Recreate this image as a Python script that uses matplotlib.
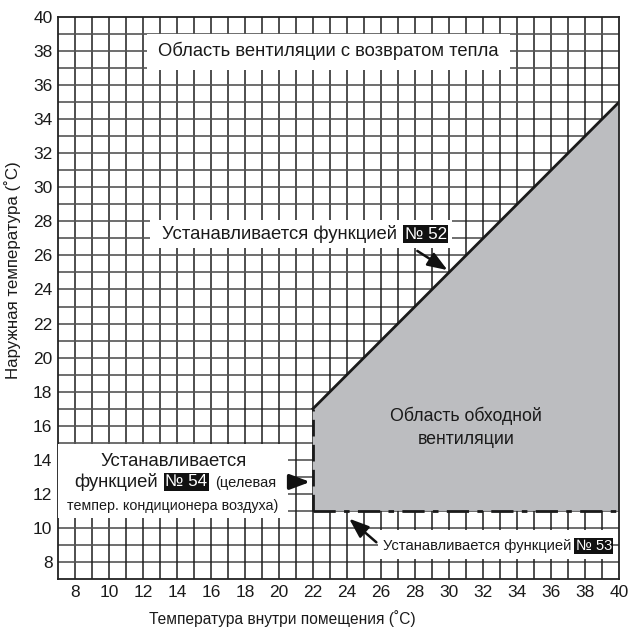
import matplotlib.pyplot as plt
from matplotlib.patches import Polygon, Rectangle

# границы области обходной вентиляции
bypass_x = [22, 22, 40, 40]
bypass_y = [11, 17, 35, 11]

x_ticks = list(range(8, 41, 2))
y_ticks = list(range(8, 41, 2))

label_top = 'Область вентиляции с возвратом тепла'
label_bypass = 'Область обходной\nвентиляции'
label_set = 'Устанавливается функцией'
label_54 = ['Устанавливается', 'функцией', '(целевая', 'темпер. кондиционера воздуха)']
num_52, num_53, num_54 = '№ 52', '№ 53', '№ 54'

SANS = ['Liberation Sans', 'DejaVu Sans']
NARROW = ['Liberation Sans Narrow', 'Liberation Sans', 'DejaVu Sans']
plt.rcParams['font.family'] = SANS

fig = plt.figure(figsize=(6.3, 6.3), dpi=100)
ax = fig.add_axes([58 / 630, 51 / 630, 561 / 630, 562 / 630])
ax.set_xlim(7, 40)
ax.set_ylim(7, 40)

# сетка через 1 градус
for v in range(8, 40):
    ax.axvline(v, color='#1e1e1e', lw=1.1, zorder=0.5)
    ax.axhline(v, color='#555555', lw=1.2, zorder=0.5)

ax.add_patch(Polygon(list(zip(bypass_x, bypass_y)), closed=True,
                     facecolor='#bcbdc0', edgecolor='none', zorder=1))
ax.plot(bypass_x[1:3], bypass_y[1:3], color='#1a1a1a', lw=2, zorder=2)
ax.plot(bypass_x[:2], bypass_y[:2], color='#1a1a1a', lw=2,
        dashes=(6, 3), zorder=2)
ax.plot([bypass_x[0], bypass_x[3]], [bypass_y[0], bypass_y[3]], color='#1a1a1a',
        lw=2, dashes=(8, 3, 2, 3), zorder=2)

# белые подложки под надписи
for (x0, y0, w, h) in [(12.25, 36.9, 21.35, 2.1), (12.4, 26.45, 17.8, 1.65),
                       (7.0, 10.6, 13.5, 4.35), (25.8, 8.15, 13.8, 1.7)]:
    ax.add_patch(Rectangle((x0, y0), w, h, facecolor='white', edgecolor='none',
                           zorder=3))

tc = '#1a1a1a'
arrow = '-|>,head_length=1.2,head_width=0.45'
ax.text(22.9, 38, label_top, ha='center', va='center', fontsize=13.2,
        color=tc, zorder=4)
ax.text(31, 15.9, label_bypass, ha='center', va='center', fontsize=12.8,
        color=tc, zorder=4, linespacing=1.45)

# № 52
ax.text(26.95, 27.25, label_set, ha='right', va='center', fontsize=13.3,
        color=tc, zorder=4)
ax.text(27.4, 27.25, num_52, ha='left', va='center', fontsize=12.3,
        color='white', zorder=5,
        bbox=dict(boxstyle='square,pad=0.08', fc='#111111', ec='none'))
ax.annotate('', xy=(30.05, 25.05), xytext=(28.0, 26.35),
            arrowprops=dict(arrowstyle=arrow, color='#111111', lw=1.8), zorder=5)

# № 54
ax.text(13.8, 13.9, label_54[0], ha='center', va='center', fontsize=13.3,
        color=tc, zorder=4)
ax.text(12.85, 12.7, label_54[1], ha='right', va='center', fontsize=13.3,
        color=tc, zorder=4)
ax.text(13.3, 12.7, num_54, ha='left', va='center', fontsize=12.3,
        color='white', zorder=5,
        bbox=dict(boxstyle='square,pad=0.08', fc='#111111', ec='none'))
ax.text(16.25, 12.65, label_54[2], ha='left', va='center', fontsize=10.5,
        family=NARROW, color=tc, zorder=4)
ax.text(13.76, 11.3, label_54[3], ha='center', va='center', fontsize=10.3,
        family=NARROW, color=tc, zorder=4)
ax.annotate('', xy=(22.0, 12.7), xytext=(20.5, 12.7),
            arrowprops=dict(arrowstyle=arrow, color='#111111', lw=2.5), zorder=5)

# № 53
ax.text(37.2, 8.95, label_set, ha='right', va='center', fontsize=10.6,
        family=NARROW, color=tc, zorder=4)
ax.text(37.45, 8.95, num_53, ha='left', va='center', fontsize=10.6,
        family=NARROW, color='white', zorder=5,
        bbox=dict(boxstyle='square,pad=0.08', fc='#111111', ec='none'))
ax.annotate('', xy=(24.0, 10.65), xytext=(25.85, 9.05),
            arrowprops=dict(arrowstyle=arrow, color='#111111', lw=1.8), zorder=5)

ax.set_xticks(x_ticks)
ax.set_yticks(y_ticks)
ax.tick_params(length=0, labelcolor=tc, pad=4)
for lab in ax.get_xticklabels() + ax.get_yticklabels():
    lab.set_family(NARROW)
    lab.set_fontsize(12.5)
for s in ax.spines.values():
    s.set_color('#222222')
    s.set_linewidth(1.3)

ax.set_xlabel('Температура внутри помещения (˚C)', fontsize=11.2, color=tc)
ax.set_ylabel('Наружная температура (˚C)', fontsize=12.2, color=tc)
ax.xaxis.set_label_coords(0.40, -0.055)
ax.yaxis.set_label_coords(-0.066, 0.55)

fig.savefig('out.png', dpi=100)
